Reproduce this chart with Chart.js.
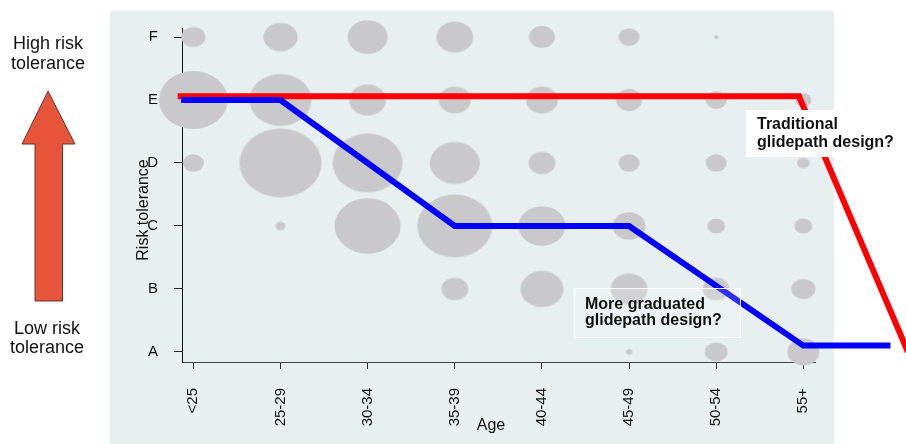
<!DOCTYPE html>
<html>
<head>
<meta charset="utf-8">
<script src="https://cdn.jsdelivr.net/npm/chart.js@4/dist/chart.umd.min.js"></script>
<style>
  html, body { margin: 0; padding: 0; background: #ffffff; }
  #wrap { width: 906px; height: 444px; position: relative; }
</style>
</head>
<body>
<div id="wrap"><canvas id="chart" width="906" height="444"></canvas></div>
<script>
// Age groups (x axis) and risk-tolerance levels (y axis)
const AGE_GROUPS = ['<25', '25-29', '30-34', '35-39', '40-44', '45-49', '50-54', '55+'];
const RISK_LEVELS = ['A', 'B', 'C', 'D', 'E', 'F'];

// Respondents in each age group at each risk-tolerance level
const LEVEL_A = [0, 0, 0, 0, 0, 2, 26, 51];
const LEVEL_B = [0, 0, 0, 36, 92, 68, 36, 29];
const LEVEL_C = [0, 5, 218, 281, 110, 54, 16, 16];
const LEVEL_D = [22, 336, 245, 125, 36, 22, 22, 8];
const LEVEL_E = [238, 192, 68, 51, 51, 34, 22, 13];
const LEVEL_F = [29, 58, 80, 68, 34, 22, 1, 0];

// Glidepaths: position along the age axis and risk level
const TRADITIONAL_AGE = [-0.18, 6.95, 8.2];
const TRADITIONAL_RISK = [4.06, 4.06, 0];
const GRADUATED_AGE = [-0.14, 1, 3, 5, 7, 8];
const GRADUATED_RISK = [4, 4, 2, 2, 0.1, 0.1];

const FONT = "'Liberation Sans', Arial, Helvetica, sans-serif";
const INK = '#111111';
const PANEL = '#e8eff1';
const BUBBLE = '#c9c9cb';
const BUBBLE_ASPECT = 1.19;   // bubbles are drawn slightly wider than tall

Chart.defaults.font.family = FONT;
Chart.defaults.color = INK;

// Bubble points: area proportional to respondents
const levelCounts = [LEVEL_A, LEVEL_B, LEVEL_C, LEVEL_D, LEVEL_E, LEVEL_F];
const bubblePoints = [];
levelCounts.forEach((row, level) => {
  row.forEach((n, age) => {
    if (n > 0) bubblePoints.push({ x: age, y: level, r: Math.sqrt(n * 5), n: n });
  });
});

// Elliptical marker sprites, cached per size
const spriteCache = {};
function ellipseSprite(rx) {
  const key = rx.toFixed(2);
  if (spriteCache[key]) return spriteCache[key];
  const ry = rx / BUBBLE_ASPECT;
  const c = document.createElement('canvas');
  c.width = Math.ceil(rx * 2) + 2;
  c.height = Math.ceil(ry * 2) + 2;
  const g = c.getContext('2d');
  g.fillStyle = BUBBLE;
  g.beginPath();
  g.ellipse(c.width / 2, c.height / 2, rx, ry, 0, 0, Math.PI * 2);
  g.fill();
  spriteCache[key] = c;
  return c;
}

const toXY = (xs, ys) => xs.map((x, i) => ({ x: x, y: ys[i] }));

// Page furniture: panel, arrow, side captions, axis titles, callout boxes
const furniture = {
  id: 'furniture',
  beforeDraw(chart) {
    const ctx = chart.ctx;
    ctx.save();
    ctx.fillStyle = '#ffffff';
    ctx.fillRect(0, 0, chart.width, chart.height);
    ctx.fillStyle = PANEL;
    ctx.fillRect(110, 11, 724, 433);
    ctx.restore();
  },
  afterDatasetsDraw(chart) {
    const ctx = chart.ctx;
    ctx.save();
    // graduated callout
    ctx.fillStyle = 'rgba(255,255,255,0.18)';
    ctx.fillRect(574, 288, 166, 49);
    ctx.strokeStyle = 'rgba(255,255,255,0.9)';
    ctx.lineWidth = 1;
    ctx.strokeRect(574.5, 288.5, 166, 49);
    // traditional callout
    ctx.fillStyle = '#ffffff';
    ctx.fillRect(746, 110, 170, 47);

    ctx.fillStyle = INK;
    ctx.font = 'bold 16px ' + FONT;
    ctx.textAlign = 'left';
    ctx.textBaseline = 'alphabetic';
    ctx.fillText('Traditional', 757, 129);
    ctx.fillText('glidepath design?', 757, 147);
    ctx.fillText('More graduated', 585, 308.5);
    ctx.fillText('glidepath design?', 585, 325);
    ctx.restore();
  },
  afterDraw(chart) {
    const ctx = chart.ctx;
    ctx.save();
    // up arrow
    ctx.beginPath();
    ctx.moveTo(48, 91);
    ctx.lineTo(75, 144);
    ctx.lineTo(62.5, 144);
    ctx.lineTo(62.5, 301);
    ctx.lineTo(35, 301);
    ctx.lineTo(35, 144);
    ctx.lineTo(22, 144);
    ctx.closePath();
    ctx.fillStyle = '#e6543a';
    ctx.fill();
    ctx.strokeStyle = '#5e3a30';
    ctx.lineWidth = 1;
    ctx.stroke();

    ctx.fillStyle = INK;
    ctx.font = '18px ' + FONT;
    ctx.textAlign = 'center';
    ctx.textBaseline = 'alphabetic';
    ctx.fillText('High risk', 48, 49);
    ctx.fillText('tolerance', 48, 68.5);
    ctx.fillText('Low risk', 47, 333.5);
    ctx.fillText('tolerance', 47, 353);

    // axis titles
    ctx.font = '16px ' + FONT;
    ctx.fillText('Age', 491, 430);
    ctx.translate(148, 210);
    ctx.rotate(-Math.PI / 2);
    ctx.fillText('Risk tolerance', 0, 0);
    ctx.restore();
  }
};

new Chart(document.getElementById('chart'), {
  type: 'bubble',
  data: {
    datasets: [
      {
        label: 'More graduated glidepath',
        type: 'line',
        data: toXY(GRADUATED_AGE, GRADUATED_RISK),
        borderColor: '#0000ff',
        borderWidth: 6,
        pointRadius: 0,
        tension: 0,
        fill: false,
        clip: false,
        borderCapStyle: 'butt',
        borderJoinStyle: 'miter',
        order: 1
      },
      {
        label: 'Traditional glidepath',
        type: 'line',
        data: toXY(TRADITIONAL_AGE, TRADITIONAL_RISK),
        borderColor: '#ff0000',
        borderWidth: 6,
        pointRadius: 0,
        tension: 0,
        fill: false,
        clip: false,
        borderCapStyle: 'butt',
        borderJoinStyle: 'miter',
        order: 2
      },
      {
        label: 'Respondents',
        data: bubblePoints,
        backgroundColor: BUBBLE,
        borderWidth: 0,
        clip: false,
        pointStyle: (ctx) => (ctx.raw ? ellipseSprite(ctx.raw.r) : 'circle'),
        order: 3
      }
    ]
  },
  options: {
    responsive: false,
    animation: false,
    events: [],
    layout: { autoPadding: false, padding: { left: 0, top: 28, right: 91, bottom: 0 } },
    plugins: {
      legend: { display: false },
      tooltip: { enabled: false },
      title: { display: false }
    },
    scales: {
      x: {
        type: 'linear',
        min: -0.13,
        max: 7.134,
        z: 1,
        afterFit: (s) => { s.height = 82; s.paddingLeft = 0; s.paddingRight = 0; },
        afterBuildTicks: (s) => { s.ticks = AGE_GROUPS.map((_, i) => ({ value: i })); },
        grid: { drawOnChartArea: false, drawTicks: true, tickLength: 7, color: '#333333', lineWidth: 1 },
        border: { display: true, color: '#444444', width: 1 },
        ticks: {
          autoSkip: false,
          minRotation: 90,
          maxRotation: 90,
          padding: 19,
          color: INK,
          font: { size: 15 },
          callback: (v) => AGE_GROUPS[Math.round(v)]
        }
      },
      y: {
        type: 'linear',
        min: -0.16,
        max: 5.143,
        z: 1,
        afterFit: (s) => { s.width = 182; s.paddingTop = 0; s.paddingBottom = 0; },
        afterBuildTicks: (s) => { s.ticks = RISK_LEVELS.map((_, i) => ({ value: i })); },
        grid: { drawOnChartArea: false, drawTicks: true, tickLength: 8, color: '#222222', lineWidth: 1 },
        border: { display: true, color: '#111111', width: 1 },
        ticks: {
          padding: 16,
          color: INK,
          font: { size: 15 },
          callback: (v) => RISK_LEVELS[Math.round(v)]
        }
      }
    }
  },
  plugins: [furniture]
});
</script>
</body>
</html>
